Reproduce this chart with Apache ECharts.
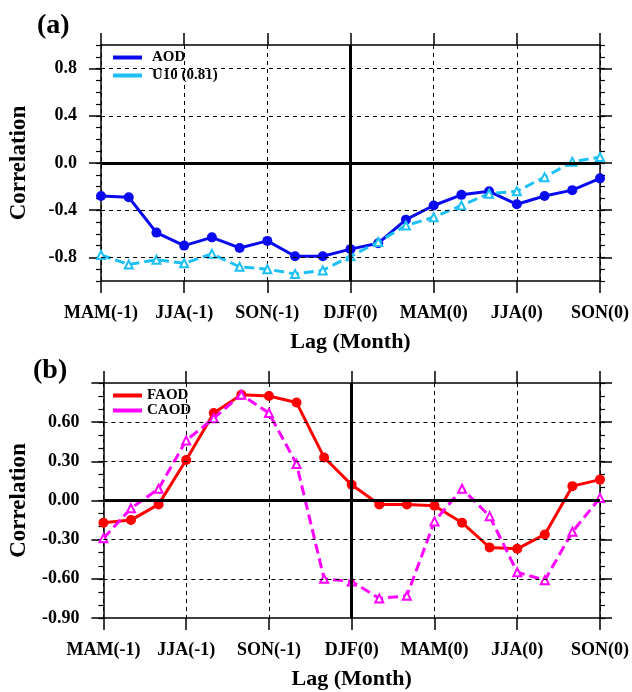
<!DOCTYPE html>
<html>
<head>
<meta charset="utf-8">
<script src="https://cdn.jsdelivr.net/npm/echarts@6.0.0/dist/echarts.min.js"></script>
<style>
html, body { margin: 0; padding: 0; background: #fff; }
#main { width: 632px; height: 692px; }
</style>
</head>
<body>
<div id="main"></div>
<script>
// 季节标签（每3个月一个）
var seasonLabels = ['MAM(-1)', 'JJA(-1)', 'SON(-1)', 'DJF(0)', 'MAM(0)', 'JJA(0)', 'SON(0)'];

// (a) 
var aod = [-0.28, -0.29, -0.59, -0.70, -0.63, -0.72, -0.66, -0.79, -0.79, -0.73, -0.68, -0.48, -0.36, -0.27, -0.24, -0.35, -0.28, -0.23, -0.13];
var u10 = [-0.78, -0.86, -0.82, -0.85, -0.77, -0.88, -0.90, -0.94, -0.91, -0.79, -0.67, -0.53, -0.46, -0.36, -0.26, -0.24, -0.12, 0.01, 0.05];

// (b)
var faod = [-0.17, -0.15, -0.03, 0.31, 0.67, 0.81, 0.80, 0.75, 0.33, 0.12, -0.03, -0.03, -0.04, -0.17, -0.36, -0.37, -0.26, 0.11, 0.16];
var caod = [-0.29, -0.06, 0.09, 0.46, 0.63, 0.81, 0.67, 0.28, -0.60, -0.62, -0.75, -0.73, -0.16, 0.09, -0.12, -0.55, -0.61, -0.24, 0.02];

// 刻度
var majorA = [-0.8, -0.4, 0, 0.4, 0.8];
var majorB = [-0.9, -0.6, -0.3, 0, 0.3, 0.6, 0.9];
var labelB = [-0.9, -0.6, -0.3, 0, 0.3, 0.6];
var hGridA = [-0.8, -0.4, 0.4, 0.8];
var hGridB = [-0.6, -0.3, 0.3, 0.6];

var font = 'Liberation Serif';

function pairs (arr) {
  return arr.map(function (v, i) { return [i, v]; });
}

function xAxes (g) {
  return [{
    gridIndex: g, type: 'value', min: 0, max: 18, interval: 3, position: 'bottom',
    axisLine: { onZero: false, lineStyle: { color: '#000', width: 1.5 } },
    axisTick: { length: 12, lineStyle: { color: '#000', width: 1.5 } },
    axisLabel: {
      margin: 23, color: '#000', fontFamily: font, fontWeight: 'bold', fontSize: 18,
      formatter: function (v) { return seasonLabels[v / 3]; }
    },
    splitLine: { show: true, lineStyle: { color: '#000', width: 1, type: [4, 4] } },
    name: 'Lag (Month)', nameLocation: 'middle', nameGap: 50,
    nameTextStyle: { color: '#000', fontFamily: font, fontWeight: 'bold', fontSize: 22 }
  }, {
    gridIndex: g, type: 'value', min: 0, max: 18, interval: 3, position: 'top',
    axisLine: { onZero: false, lineStyle: { color: '#000', width: 1.5 } },
    axisTick: { length: 12, lineStyle: { color: '#000', width: 1.5 } },
    axisLabel: { show: false },
    splitLine: { show: false }
  }];
}

function yAxes (g, min, max, majors, labels, digits) {
  var line = { onZero: false, lineStyle: { color: '#000', width: 1.5 } };
  return [{
    gridIndex: g, type: 'value', min: min, max: max, position: 'left',
    axisLine: line,
    axisTick: { customValues: majors, length: 12, lineStyle: { color: '#000', width: 1.5 } },
    axisLabel: {
      customValues: labels, margin: 24, color: '#000', fontFamily: font, fontWeight: 'bold', fontSize: 18,
      formatter: function (v) { return v.toFixed(digits); }
    },
    splitLine: { show: false },
    name: 'Correlation', nameLocation: 'middle', nameRotate: 90, nameGap: 70,
    nameTextStyle: { color: '#000', fontFamily: font, fontWeight: 'bold', fontSize: 23 }
  }, {
    gridIndex: g, type: 'value', min: min, max: max, interval: 0.1, position: 'left',
    axisLine: { show: false, onZero: false },
    axisTick: { length: 5, lineStyle: { color: '#000', width: 1.2 } },
    axisLabel: { show: false }, splitLine: { show: false }
  }, {
    gridIndex: g, type: 'value', min: min, max: max, position: 'right',
    axisLine: line,
    axisTick: { customValues: majors, length: 12, lineStyle: { color: '#000', width: 1.5 } },
    axisLabel: { show: false }, splitLine: { show: false }
  }, {
    gridIndex: g, type: 'value', min: min, max: max, interval: 0.1, position: 'right',
    axisLine: { show: false, onZero: false },
    axisTick: { length: 5, lineStyle: { color: '#000', width: 1.2 } },
    axisLabel: { show: false }, splitLine: { show: false }
  }];
}

function refLines (xi, yi, hLines) {
  var data = hLines.map(function (v) {
    return { yAxis: v, lineStyle: { color: '#000', width: 1, type: [4, 4] } };
  });
  data.push({ yAxis: 0, lineStyle: { color: '#000', width: 3, type: 'solid' } });
  data.push({ xAxis: 9, lineStyle: { color: '#000', width: 3, type: 'solid' } });
  return {
    type: 'line', xAxisIndex: xi, yAxisIndex: yi, data: [], z: 1, silent: true,
    markLine: { symbol: 'none', silent: true, label: { show: false }, animation: false, data: data }
  };
}

var myChart = echarts.init(document.getElementById('main'));

var legendTextA = { color: '#000', fontFamily: font, fontWeight: 'bold', fontSize: 15, padding: [0, 0, 0, 5] };
var legendTextB = { color: '#000', fontFamily: font, fontWeight: 'bold', fontSize: 15 };

let option = {
  animation: false,
  backgroundColor: '#fff',
  title: [
    { text: '(a)', left: 32, top: 7, textStyle: { color: '#000', fontFamily: font, fontWeight: 'bold', fontSize: 28 } },
    { text: '(b)', left: 28, top: 352, textStyle: { color: '#000', fontFamily: font, fontWeight: 'bold', fontSize: 28 } }
  ],
  legend: [
    { data: ['AOD', 'U10 (0.81)'], orient: 'vertical', left: 113, top: 50, padding: 0, itemGap: 3,
      itemWidth: 29, itemHeight: 4, icon: 'rect', textStyle: legendTextA },
    { data: ['FAOD', 'CAOD'], orient: 'vertical', left: 113, top: 388, padding: 0, itemGap: 0,
      itemWidth: 29, itemHeight: 4, icon: 'rect', textStyle: legendTextB }
  ],
  grid: [
    { left: 100, top: 45, width: 501, height: 236 },
    { left: 100, top: 383, width: 501, height: 235 }
  ],
  xAxis: xAxes(0).concat(xAxes(1)),
  yAxis: yAxes(0, -1, 1, majorA, majorA, 1).concat(yAxes(1, -0.9, 0.9, majorB, labelB, 2)),
  series: [
    refLines(0, 0, hGridA),
    {
      name: 'AOD', type: 'line', xAxisIndex: 0, yAxisIndex: 0, z: 3,
      data: pairs(aod), symbol: 'circle', symbolSize: 10,
      lineStyle: { color: '#0a0af0', width: 3 }, itemStyle: { color: '#0a0af0' }
    },
    {
      name: 'U10 (0.81)', type: 'line', xAxisIndex: 0, yAxisIndex: 0, z: 4,
      data: pairs(u10), symbol: 'emptyTriangle', symbolSize: 8,
      lineStyle: { color: '#1cc0f5', width: 3, type: [10, 5] },
      itemStyle: { color: '#1cc0f5', borderWidth: 1 }
    },
    refLines(2, 4, hGridB),
    {
      name: 'FAOD', type: 'line', xAxisIndex: 2, yAxisIndex: 4, z: 3,
      data: pairs(faod), symbol: 'circle', symbolSize: 10,
      lineStyle: { color: '#ff0000', width: 3 }, itemStyle: { color: '#ff0000' }
    },
    {
      name: 'CAOD', type: 'line', xAxisIndex: 2, yAxisIndex: 4, z: 4,
      data: pairs(caod), symbol: 'emptyTriangle', symbolSize: 8,
      lineStyle: { color: '#ff00ff', width: 3, type: [10, 5] },
      itemStyle: { color: '#ff00ff', borderWidth: 1 }
    }
  ]
};

myChart.setOption(option);
</script>
</body>
</html>
